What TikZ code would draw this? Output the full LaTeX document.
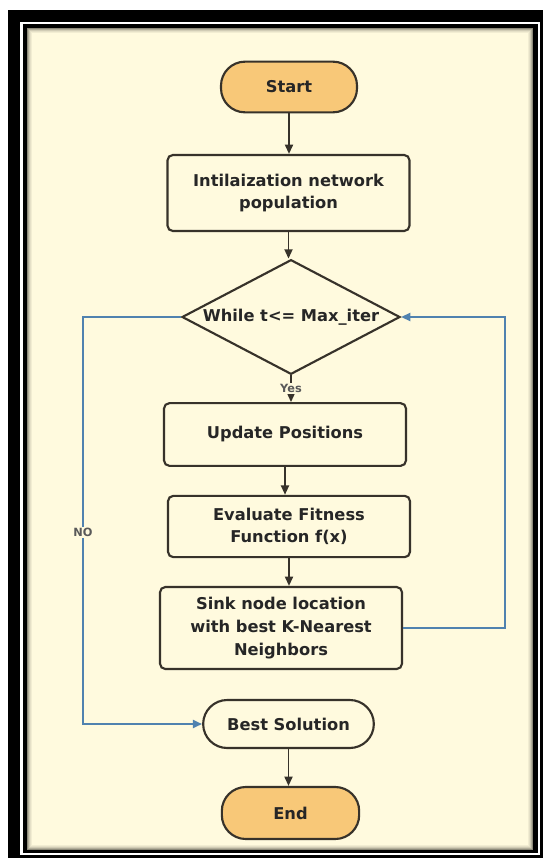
\documentclass[tikz,border=0pt]{standalone}
\usepackage{fontspec}
\setmainfont{DejaVu Sans}
\usetikzlibrary{shapes.geometric,arrows.meta}
\definecolor{paper}{RGB}{255,250,222}
\definecolor{termfill}{RGB}{248,200,120}
\definecolor{edge}{RGB}{55,50,42}
\definecolor{loopblue}{RGB}{80,130,175}

\begin{document}
\begin{tikzpicture}[x=0.75pt,y=-0.75pt,
        font=\fontsize{12.2}{17}\selectfont\bfseries,
        every node/.style={draw=edge,line width=1.6pt,text=black!85,align=center},
        term/.style={fill=termfill,rounded corners=18pt,minimum width=102pt,minimum height=38pt},
        proc/.style={fill=paper,rounded corners=4pt,minimum width=181.5pt},
        cond/.style={diamond,fill=paper,aspect=1.9,inner sep=0pt,minimum width=163.5pt,minimum height=86pt},
        flow/.style={draw=edge,line width=1.4pt,-{Triangle[length=7pt,width=6pt]}},
        back/.style={draw=loopblue,line width=1.8pt,-{Triangle[length=7pt,width=6pt]}},
        tag/.style={draw=none,fill=paper,inner sep=1pt,text=black!65,font=\fontsize{8.5}{9}\selectfont\bfseries}]

    \useasboundingbox (0,0) rectangle (544,863);

    % frame
    \fill[black] (8,10) rectangle (543,858);
    \fill[white] (20,22) rectangle (540,855);
    \fill[black] (23,24) rectangle (538,853);
    \fill[paper] (27,28) rectangle (533,850);
    \foreach \d/\o in {0/0.45,1/0.3,2/0.18,3/0.1,4/0.05}
        \draw[black,opacity=\o,line width=0.75pt] (27.5+\d,28.5+\d) rectangle (532.5-\d,849.5-\d);

    \node[term] (start) at (289,87) {Start};
    \node[proc,minimum height=57pt] (init) at (288.5,193) {Intilaization network\\population};
    \node[cond] (while) at (291,317) {While t<= Max\_iter};
    \node[proc,minimum height=47pt] (update) at (285,434.5) {Update Positions};
    \node[proc,minimum height=46pt] (eval) at (289,526.5) {Evaluate Fitness\\Function f(x)};
    \node[proc,minimum height=61.5pt] (sink) at (281,628) {Sink node location\\with best K-Nearest\\Neighbors};
    \node[term,fill=paper,minimum width=128pt,minimum height=36pt] (best) at (288.5,724) {Best Solution};
    \node[term,minimum width=103pt,minimum height=39pt] (end) at (290.5,813) {End};

    \coordinate (nocorner) at (83,317);
    \coordinate (nobottom) at (83,724);
    \coordinate (loopright) at (505,628);
    \coordinate (looptop) at (505,317);

    \draw[flow] (start.south) -- (start.south |- init.north);
    \draw[flow] (init.south) -- (init.south |- while.north);
    \draw[flow] (while.south) -- node[tag]{Yes} (while.south |- update.north);
    \draw[flow] (update.south) -- (update.south |- eval.north);
    \draw[flow] (eval.south) -- (eval.south |- sink.north);
    \draw[flow] (best.south) -- (best.south |- end.north);

    % loops
    \draw[back] (while.west) -- (nocorner) -- node[tag,pos=0.53]{NO} (nobottom) -- (best.west);
    \draw[back] (sink.east) -- (loopright) -- (looptop) -- (while.east);

\end{tikzpicture}
\end{document}
